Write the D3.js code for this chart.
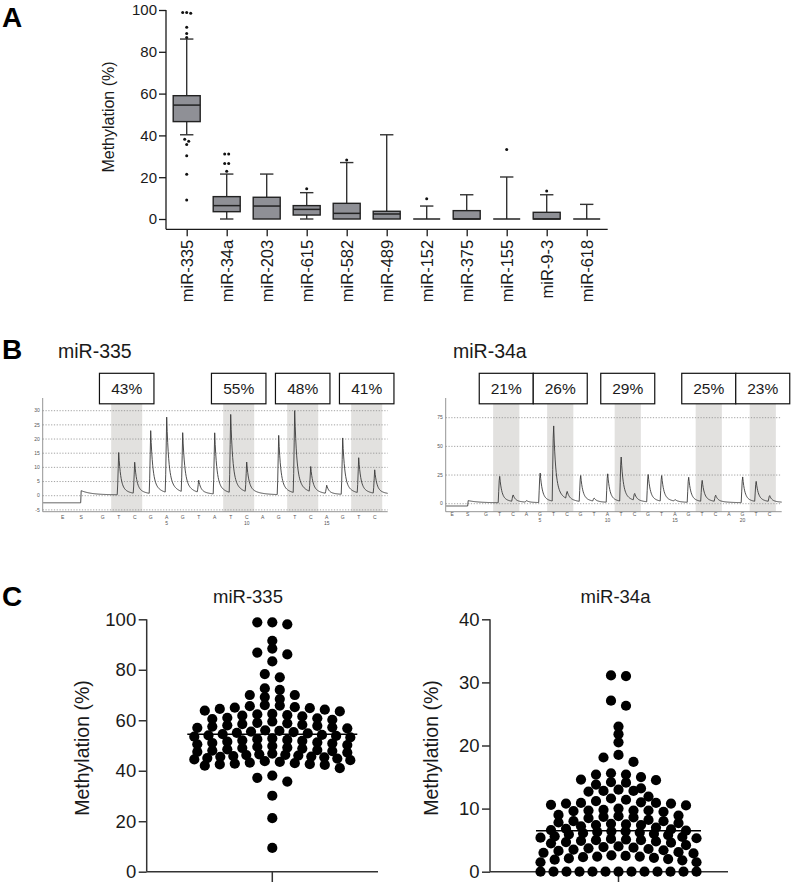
<!DOCTYPE html>
<html><head><meta charset="utf-8">
<script src="https://cdn.jsdelivr.net/npm/d3@7"></script>
<style>
body{margin:0;background:#fff;}
svg{display:block;font-family:"Liberation Sans",Arial,Helvetica,sans-serif;}
</style></head><body>
<svg id="fig" width="792" height="882"></svg>
<script>
// ================= DATA =================
// Panel A : box plots
const boxCategories = ["miR-335","miR-34a","miR-203","miR-615","miR-582","miR-489","miR-152","miR-375","miR-155","miR-9-3","miR-618"];
const boxWhiskerLow  = [40.3, 0, 0, 0, 0, 0, 0, 0, 0, 0, 0];
const boxQ1          = [46.6, 3.5, 0, 1.9, 0, 0, 0, 0, 0, 0, 0];
const boxMedian      = [54.5, 6.4, 6.2, 4.6, 2.7, 2.4, 0, 0, 0, 0, 0];
const boxQ3          = [59.0, 10.7, 10.4, 6.4, 7.5, 3.7, 0, 4.0, 0, 3.2, 0];
const boxWhiskerHigh = [86.1, 21.5, 21.5, 12.6, 27.0, 40.3, 6.2, 11.6, 20.1, 11.6, 7.0];
const boxOutliers = [
  [98.8, 98.5, 98.8, 91.7, 88.8, 86.8, 38.1, 37.2, 35.7, 30.3, 21.4, 9.1],
  [31.1, 31.1, 26.6, 26.6, 22.8],
  [], [14.5], [28.2], [], [9.7], [], [33.3], [13.4], []
];
const boxYTicks = [0, 20, 40, 60, 80, 100];

// Panel B : pyrograms
const pyro335Nucleotides = ["G","T","C","G","A","G","T","A","T","C","A","G","T","C","A","G","T","C"];
const pyro335Peaks       = [0, 14.9, 11.0, 22.2, 26.6, 20.9, 4.3, 21.6, 27.6, 10.5, 0, 20.9, 29.0, 8.9, 2.9, 19.9, 12.4, 8.3];
const pyro335Sites       = [[1,2],[8,9],[12,13],[16,17]];
const pyro335Labels      = ["43%","55%","48%","41%"];
const pyro335Ticks       = [-5, 0, 5, 10, 15, 20, 25, 30];
const pyro335Baseline    = [-2.5, 0.3, 1.5];   // before S, after S, S bump

const pyro34aNucleotides = ["G","T","C","A","G","T","C","G","T","A","T","C","G","T","A","G","T","C","A","G","T","C"];
const pyro34aPeaks       = [0, 25, 6.2, 1.5, 28, 71.5, 7.0, 24.7, 3.0, 27, 42, 6.5, 26, 24.4, 1.5, 23.8, 20, 5.9, 0, 24.4, 19.1, 5.6];
const pyro34aSites       = [[1,2],[5,6],[10,11],[16,17],[20,21]];
const pyro34aLabels      = ["21%","26%","29%","25%","23%"];
const pyro34aTicks       = [0, 25, 50, 75];
const pyro34aBaseline    = [-2.0, 0.8, 2.0];

// Panel C : scatter dot plots
const swarm335Values = [98.8, 98.8, 98.0, 91.5, 88.4, 86.8, 86.1, 83.3, 78.3, 77.0, 72.6, 72.0, 70.0, 70.0, 69.2, 68.4,
  66.0, 65.8, 65.6, 65.2, 65.0, 64.8, 64.5, 64.2, 63.8, 63.5,
  62.5, 62.3, 62.0, 61.8, 61.5, 61.0, 60.8, 60.5, 60.2,
  59.5, 59.0, 58.8, 58.5, 58.2, 58.0, 57.8, 57.5, 57.2, 57.0, 56.8,
  56.0, 55.8, 55.5, 55.3, 55.0, 54.8, 54.5, 54.2, 54.0, 53.8, 53.5, 53.2,
  52.8, 52.5, 52.2, 52.0, 51.8, 51.5, 51.2, 51.0, 50.8, 50.5, 50.2,
  49.8, 49.5, 49.2, 49.0, 48.8, 48.5, 48.2, 48.0, 47.8, 47.5, 47.2,
  46.8, 46.5, 46.3, 46.2, 46.0, 45.8, 45.6, 45.5, 45.3, 45.0, 44.8, 44.5, 44.2,
  43.8, 43.5, 43.2, 43.0, 42.8, 42.6, 42.5, 42.3, 42.0, 41.0,
  38.1, 37.2, 35.7, 30.1, 21.2, 9.4];
const swarm335Center = 54.5;
const swarm335Ticks = [0, 20, 40, 60, 80, 100];

const swarm34aValues = [31.1, 31.0, 27.1, 26.3, 23.0, 21.8, 20.5, 18.5, 18.1, 17.4,
  15.6, 15.4, 15.4, 15.0, 14.6, 14.5,
  14.2, 14.1, 13.8, 13.2,
  13.0, 12.8, 12.8, 12.7, 11.9,
  11.6, 11.4, 11.2, 11.0, 10.9, 10.9, 10.8, 10.8, 10.6, 10.5,
  10.0, 9.8, 9.7, 9.7, 9.7, 9.6, 9.5, 9.0, 8.9,
  8.8, 8.7, 8.6, 8.5, 8.2, 8.0, 8.0, 7.8, 7.7,
  7.6, 7.5, 7.4, 7.4, 7.2, 7.0, 6.8, 6.7, 6.6, 6.5,
  6.4, 6.4, 6.3, 6.2, 6.1, 6.0, 5.9, 5.8, 5.6, 5.5, 5.4, 5.3,
  5.2, 5.1, 5.0, 5.0, 4.9, 4.8, 4.7, 4.6, 4.5, 4.2,
  4.0, 3.9, 3.8, 3.7, 3.6, 3.5, 3.4, 3.3, 3.1, 3.0, 2.9,
  2.6, 2.5, 2.4, 2.4, 2.3, 2.2, 2.1, 2.0, 1.9, 1.8, 1.5, 1.5,
  0, 0, 0, 0, 0, 0, 0, 0, 0, 0, 0, 0, 0];
const swarm34aCenter = 6.5;
const swarm34aTicks = [0, 10, 20, 30, 40];

// ================= DRAW =================
const svg = d3.select("#fig");
const INK = "#1a1a1a";

// panel letters
[["A", 2, 27], ["B", 2, 359], ["C", 2, 606]].forEach(([t, x, y]) =>
  svg.append("text").attr("x", x).attr("y", y).attr("font-size", 28).attr("font-weight", "bold").attr("fill", "#000").text(t));

// ---------- Panel A ----------
(function () {
  const g = svg.append("g");
  const x = d3.scalePoint().domain(boxCategories).range([186.7, 586.7]);
  const y = d3.scaleLinear().domain([0, 100]).range([219, 10]);
  const axisY = 229.3, axisX = 166;

  const ya = g.append("g").attr("transform", `translate(${axisX},0)`)
    .call(d3.axisLeft(y).tickValues(boxYTicks).tickSize(7).tickPadding(2));
  ya.select(".domain").remove();
  ya.selectAll("line").attr("stroke", INK).attr("stroke-width", 1.3);
  ya.selectAll("text").attr("font-size", 15).attr("fill", INK).attr("font-family", "Liberation Sans, Arial, sans-serif");
  g.append("line").attr("x1", axisX).attr("x2", axisX).attr("y1", y(100)).attr("y2", axisY).attr("stroke", INK).attr("stroke-width", 1.3);

  const xa = g.append("g").attr("transform", `translate(0,${axisY})`)
    .call(d3.axisBottom(x).tickSize(7).tickPadding(3));
  xa.select(".domain").remove();
  xa.selectAll("line").attr("stroke", INK).attr("stroke-width", 1.3);
  xa.selectAll("text").attr("font-size", 16.5).attr("fill", INK).attr("font-family", "Liberation Sans, Arial, sans-serif")
    .attr("transform", "rotate(-90)").attr("x", -10.5).attr("y", 0).attr("dy", "0.35em").style("text-anchor", "end");
  g.append("line").attr("x1", axisX).attr("x2", 607.7).attr("y1", axisY).attr("y2", axisY).attr("stroke", INK).attr("stroke-width", 1.3);

  g.append("text").attr("transform", `translate(114,117) rotate(-90)`).attr("text-anchor", "middle")
    .attr("font-size", 16).attr("fill", INK).text("Methylation (%)");

  const bw = 13.5, cw = 6.7;
  boxCategories.forEach((c, i) => {
    const cx = x(c);
    const wg = g.append("g").attr("stroke", "#333").attr("stroke-width", 1.4).attr("fill", "none");
    if (boxWhiskerHigh[i] > boxQ3[i]) {
      wg.append("line").attr("x1", cx).attr("x2", cx).attr("y1", y(boxQ3[i])).attr("y2", y(boxWhiskerHigh[i]));
      wg.append("line").attr("x1", cx - cw).attr("x2", cx + cw).attr("y1", y(boxWhiskerHigh[i])).attr("y2", y(boxWhiskerHigh[i]));
    }
    if (boxWhiskerLow[i] < boxQ1[i]) {
      wg.append("line").attr("x1", cx).attr("x2", cx).attr("y1", y(boxQ1[i])).attr("y2", y(boxWhiskerLow[i]));
      wg.append("line").attr("x1", cx - cw).attr("x2", cx + cw).attr("y1", y(boxWhiskerLow[i])).attr("y2", y(boxWhiskerLow[i]));
    }
    if (boxQ3[i] > boxQ1[i]) {
      g.append("rect").attr("x", cx - bw).attr("width", 2 * bw)
        .attr("y", y(boxQ3[i])).attr("height", y(boxQ1[i]) - y(boxQ3[i]))
        .attr("fill", "#8f9096").attr("stroke", "#222").attr("stroke-width", 1.4);
    }
    g.append("line").attr("x1", cx - bw).attr("x2", cx + bw).attr("y1", y(boxMedian[i])).attr("y2", y(boxMedian[i]))
      .attr("stroke", "#222").attr("stroke-width", 1.5);
    const outs = boxOutliers[i].slice().sort((a, b) => b - a);
    const groups = [];
    outs.forEach(v => {
      const last = groups[groups.length - 1];
      if (last && last[0] - v < 1.6) last.push(v); else groups.push([v]);
    });
    groups.forEach(gr => gr.forEach((v, k) => {
      const off = (k - (gr.length - 1) / 2) * 4;
      g.append("circle").attr("cx", cx + off).attr("cy", y(v)).attr("r", 1.5).attr("fill", "#111");
    }));
  });
})();

// ---------- Panel B ----------
function drawPyro(opt) {
  const g = svg.append("g");
  const n = opt.nucs.length;
  const x = d3.scaleLinear().domain([0, n - 1]).range([opt.xFirst, opt.xFirst + opt.step * (n - 1)]);
  const y = d3.scaleLinear().domain(opt.domain).range(opt.range);
  const xE = x(-2.5), xS = x(-1.35);

  g.append("text").attr("x", opt.titleX).attr("y", 358).attr("font-size", 19.5).attr("fill", INK).text(opt.title);

  opt.sites.forEach(([a, b]) => {
    g.append("rect").attr("x", x(a) - 0.47 * opt.step).attr("width", x(b) - x(a) + 0.94 * opt.step)
      .attr("y", 404).attr("height", 511.7 - 404).attr("fill", "#e2e1df");
  });
  opt.ticks.forEach(t => {
    g.append("line").attr("x1", opt.axisX).attr("x2", opt.xEnd).attr("y1", y(t)).attr("y2", y(t))
      .attr("stroke", "#8a8a8a").attr("stroke-width", 0.8).attr("stroke-dasharray", "1.2,1.6");
    g.append("text").attr("x", opt.axisX - 3).attr("y", y(t)).attr("dy", "0.35em").attr("text-anchor", "end")
      .attr("font-size", 5).attr("fill", "#555").text(t);
  });
  g.append("line").attr("x1", opt.axisX).attr("x2", opt.axisX).attr("y1", 398).attr("y2", 511.7).attr("stroke", "#777").attr("stroke-width", 0.8);
  g.append("line").attr("x1", opt.axisX).attr("x2", opt.xEnd).attr("y1", 511.7).attr("y2", 511.7).attr("stroke", "#777").attr("stroke-width", 0.8);

  const letters = [["E", xE], ["S", xS]].concat(opt.nucs.map((c, i) => [c, x(i)]));
  letters.forEach(([c, px]) => g.append("text").attr("x", px).attr("y", opt.letterY).attr("text-anchor", "middle")
    .attr("font-size", 5).attr("fill", "#555").text(c));
  opt.nucs.forEach((c, i) => {
    if ((i + 1) % 5 === 0) g.append("text").attr("x", x(i)).attr("y", opt.letterY + 5.5).attr("text-anchor", "middle")
      .attr("font-size", 5).attr("fill", "#555").text(i + 1);
  });

  const [pre, post, bump] = opt.baseline;
  function pulse(d) {
    if (d < -1.3) return 0;
    if (d < 0) return (d + 1.3) / 1.3;
    return 0.8 * Math.exp(-d / 2.0) + 0.2 * Math.exp(-d / 9);
  }
  const pts = [];
  for (let px = opt.axisX + 0.5; px <= opt.xEnd; px += 0.5) {
    let v = px < xS ? pre : post + bump * Math.exp(-(px - xS) / 10);
    opt.peaks.forEach((h, i) => { if (h > 0) v += h * pulse(px - x(i)); });
    pts.push([px, y(v)]);
  }
  g.append("path").attr("d", d3.line()(pts)).attr("fill", "none").attr("stroke", "#3a3a3a").attr("stroke-width", 0.9);

  opt.sites.forEach(([a, b], k) => {
    const cx = (x(a) + x(b)) / 2;
    g.append("rect").attr("x", cx - opt.boxW / 2).attr("width", opt.boxW).attr("y", 373.3).attr("height", 30.5)
      .attr("fill", "#fff").attr("stroke", "#111").attr("stroke-width", 1.2);
    g.append("text").attr("x", cx).attr("y", 388.6).attr("dy", "0.35em").attr("text-anchor", "middle")
      .attr("font-size", 15.5).attr("fill", INK).text(opt.labels[k]);
  });
}

drawPyro({ title: "miR-335", titleX: 58, nucs: pyro335Nucleotides, peaks: pyro335Peaks, sites: pyro335Sites,
  labels: pyro335Labels, ticks: pyro335Ticks, baseline: pyro335Baseline,
  xFirst: 102.7, step: 16, axisX: 42.7, xEnd: 387.7, domain: [0, 30], range: [495.7, 410.7],
  letterY: 519, boxW: 54.5 });
drawPyro({ title: "miR-34a", titleX: 453, nucs: pyro34aNucleotides, peaks: pyro34aPeaks, sites: pyro34aSites,
  labels: pyro34aLabels, ticks: pyro34aTicks, baseline: pyro34aBaseline,
  xFirst: 486, step: 13.5, axisX: 445.7, xEnd: 781.7, domain: [0, 75], range: [503.7, 417.7],
  letterY: 516, boxW: 54 });

// ---------- Panel C ----------
function swarmLayout(values, y, cx, rowSpan, step, maxHalf) {
  const sorted = values.slice().sort((a, b) => b - a);
  const rows = [];
  let cur = null;
  sorted.forEach(v => {
    if (!cur || cur.top - v > rowSpan + 1e-9) { cur = { top: v, items: [] }; rows.push(cur); }
    cur.items.push(v);
  });
  const pts = [];
  rows.forEach(r => {
    const n = r.items.length;
    const s = n > 1 ? Math.min(step, 2 * maxHalf / (n - 1)) : 0;
    const slots = d3.range(n).map(i => (i - (n - 1) / 2) * s);
    slots.sort((a, b) => Math.abs(a) - Math.abs(b) || a - b);
    r.items.forEach((v, i) => pts.push({ v, x: cx + slots[i], y: y(v) }));
  });
  return pts;
}

function drawSwarm(opt) {
  const g = svg.append("g");
  const y = d3.scaleLinear().domain(opt.domain).range([871.7, 619.3]);
  const ya = g.append("g").attr("transform", `translate(${opt.axisX},0)`)
    .call(d3.axisLeft(y).tickValues(opt.ticks).tickSize(8).tickPadding(2.5));
  ya.select(".domain").remove();
  ya.selectAll("line").attr("stroke", "#333").attr("stroke-width", 1.5);
  ya.selectAll("text").attr("font-size", 18.5).attr("fill", INK).attr("font-family", "Liberation Sans, Arial, sans-serif");
  g.append("line").attr("x1", opt.axisX).attr("x2", opt.axisX).attr("y1", 619.3).attr("y2", 871.7).attr("stroke", "#333").attr("stroke-width", 1.5);
  g.append("line").attr("x1", opt.axisX).attr("x2", opt.axisEnd).attr("y1", 871.7).attr("y2", 871.7).attr("stroke", "#333").attr("stroke-width", 1.5);
  g.append("line").attr("x1", opt.cx).attr("x2", opt.cx).attr("y1", 871.7).attr("y2", 882).attr("stroke", "#333").attr("stroke-width", 1.5);

  g.append("text").attr("transform", `translate(${opt.labelX},748) rotate(-90)`).attr("text-anchor", "middle")
    .attr("font-size", 19.5).attr("fill", INK).text("Methylation (%)");
  g.append("text").attr("x", opt.titleX).attr("y", 603).attr("text-anchor", "middle")
    .attr("font-size", 18.5).attr("fill", INK).text(opt.title);

  const pts = swarmLayout(opt.values, y, opt.cx, opt.rowSpan, 15, 78);
  g.selectAll("circle.dot").data(pts).join("circle").attr("class", "dot")
    .attr("cx", d => d.x).attr("cy", d => d.y).attr("r", 5.1).attr("fill", "#000");
  g.append("line").attr("x1", opt.cx - opt.lineHalf).attr("x2", opt.cx + opt.lineHalf)
    .attr("y1", y(opt.center)).attr("y2", y(opt.center)).attr("stroke", "#000").attr("stroke-width", 1.5);
}

drawSwarm({ title: "miR-335", titleX: 248, values: swarm335Values, center: swarm335Center, ticks: swarm335Ticks,
  domain: [0, 100], axisX: 146.7, axisEnd: 378, cx: 272.3, labelX: 89, rowSpan: 2.9, lineHalf: 85 });
drawSwarm({ title: "miR-34a", titleX: 615.5, values: swarm34aValues, center: swarm34aCenter, ticks: swarm34aTicks,
  domain: [0, 40], axisX: 490, axisEnd: 728, cx: 618.5, labelX: 438, rowSpan: 1.1, lineHalf: 82.5 });
</script>
</body></html>
